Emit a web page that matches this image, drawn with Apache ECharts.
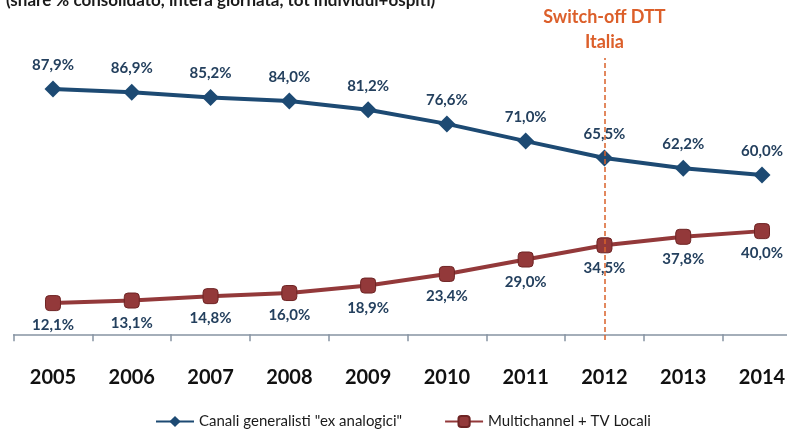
<!DOCTYPE html>
<html>
<head>
<meta charset="utf-8">
<script src="https://cdn.jsdelivr.net/npm/echarts@6/dist/echarts.min.js"></script>
<style>
  html, body { margin: 0; padding: 0; background: #fff; }
  #chart { width: 787px; height: 438px; }
</style>
</head>
<body>
<div id="chart"></div>
<script>
const years = ['2005', '2006', '2007', '2008', '2009', '2010', '2011', '2012', '2013', '2014']
const generalisti = [87.9, 86.9, 85.2, 84.0, 81.2, 76.6, 71.0, 65.5, 62.2, 60.0]
const multichannel = [12.1, 13.1, 14.8, 16.0, 18.9, 23.4, 29.0, 34.5, 37.8, 40.0]
const switchOffYear = '2012'

const font = 'Lato, "Open Sans", sans-serif'
const fmt = (p) => p.value.toFixed(1).replace('.', ',') + '%'

const chart = echarts.init(document.getElementById('chart'))

chart.setOption({
  backgroundColor: '#fff',
  animation: false,
  graphic: [
    {
      type: 'text',
      left: 6,
      top: -8,
      style: {
        text: '(share % consolidato, intera giornata, tot individui+ospiti)',
        font: 'bold 17px ' + font,
        fill: '#1a1a1a',
      },
    },
  ],
  legend: {
    bottom: 4,
    left: 150,
    itemWidth: 38,
    itemHeight: 14,
    itemGap: 42,
    textStyle: { fontFamily: font, fontSize: 15, color: '#1a1a1a' },
    data: ['Canali generalisti "ex analogici"', 'Multichannel + TV Locali'],
  },
  // grid runs a little past the right edge, as in the cropped original
  grid: { left: 13.6, right: -14.4, top: 58, bottom: 98, outerBoundsMode: 'none', containLabel: false },
  xAxis: {
    type: 'category',
    data: years,
    axisLine: { lineStyle: { color: '#8794a3', width: 1.5 } },
    axisTick: { show: true, length: 7, lineStyle: { color: '#8794a3', width: 1.5 } },
    axisLabel: { fontFamily: font, fontSize: 20, fontWeight: 'bold', color: '#111', margin: 28 },
    splitLine: { show: false },
  },
  yAxis: [
    { type: 'value', min: 6.4, max: 98.0, show: false, splitLine: { show: false } },
    { type: 'value', min: -2.2, max: 107.1, show: false, splitLine: { show: false } },
  ],
  series: [
    {
      name: 'Canali generalisti "ex analogici"',
      type: 'line',
      yAxisIndex: 0,
      data: generalisti,
      symbol: 'diamond',
      symbolSize: 17,
      lineStyle: { color: '#1d4a73', width: 4 },
      itemStyle: { color: '#1d4a73' },
      label: {
        show: true,
        position: 'top',
        distance: 8,
        formatter: fmt,
        fontFamily: font,
        fontSize: 15,
        fontWeight: 'bold',
        color: '#24405e',
      },
      markLine: {
        silent: true,
        symbol: 'none',
        lineStyle: { color: '#d9622a', type: [5, 3], width: 1.5 },
        label: {
          show: true,
          position: 'end',
          distance: 3,
          formatter: 'Switch-off DTT\nItalia',
          fontFamily: font,
          fontSize: 18,
          fontWeight: 'bold',
          lineHeight: 25,
          color: '#dc5f2a',
        },
        data: [{ xAxis: switchOffYear }],
      },
    },
    {
      name: 'Multichannel + TV Locali',
      type: 'line',
      yAxisIndex: 1,
      data: multichannel,
      symbol: 'roundRect',
      symbolSize: 15,
      lineStyle: { color: '#93393a', width: 4 },
      itemStyle: { color: '#93393a', borderColor: '#6e2424', borderWidth: 1 },
      label: {
        show: true,
        position: 'bottom',
        distance: 7,
        formatter: fmt,
        fontFamily: font,
        fontSize: 15,
        fontWeight: 'bold',
        color: '#24405e',
      },
    },
  ],
})

window.addEventListener('resize', () => {
  chart.resize()
})
</script>
</body>
</html>
